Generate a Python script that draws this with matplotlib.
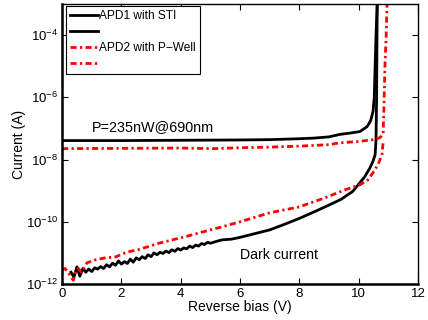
import numpy as np
import matplotlib
matplotlib.use('Agg')
import matplotlib.pyplot as plt

plt.rcParams['font.family'] = ['Liberation Sans', 'DejaVu Sans']
plt.rcParams['mathtext.fontset'] = 'custom'
plt.rcParams['mathtext.rm'] = 'Liberation Sans'
plt.rcParams['mathtext.it'] = 'Liberation Sans:italic'

# currents are given as log10(I / A)

# APD1 (STI), illuminated
apd1_light_v = [0, 2, 4, 6, 7, 8, 8.5, 9, 9.37, 9.7, 10.04, 10.28, 10.4, 10.48,
                10.52, 10.55, 10.58, 10.62]
apd1_light_log = [-7.39, -7.39, -7.38, -7.37, -7.36, -7.33, -7.31, -7.27, -7.19,
                  -7.15, -7.1, -6.94, -6.75, -6.45, -6.0, -5.0, -4.0, -3.0]

# APD1 (STI), dark
apd1_dark_v = [0.3, 0.4, 0.5, 0.6, 0.7, 0.8, 0.9, 1.0, 1.1, 1.2, 1.3, 1.4, 1.5,
               1.6, 1.7, 1.8, 1.9, 2.0, 2.1, 2.2, 2.3, 2.4, 2.5, 2.6, 2.7, 2.8,
               2.9, 3.0, 3.1, 3.2, 3.3, 3.4, 3.5, 3.6, 3.7, 3.8, 3.9, 4.0, 4.1,
               4.2, 4.3, 4.4, 4.5, 4.6, 4.7, 4.8, 4.9, 5.0, 5.2, 5.4, 5.7, 6.0,
               6.5, 7.0, 7.5, 8.0, 8.5, 9.0, 9.4, 9.8, 10.04, 10.2, 10.38, 10.48,
               10.55, 10.58, 10.6, 10.61, 10.62]
apd1_dark_log = [-11.62, -11.78, -11.45, -11.75, -11.50, -11.62, -11.52, -11.60,
                 -11.48, -11.52, -11.44, -11.50, -11.38, -11.45, -11.33, -11.40,
                 -11.26, -11.36, -11.28, -11.34, -11.20, -11.30, -11.16, -11.22,
                 -11.12, -11.18, -11.06, -11.12, -11.00, -11.06, -10.98, -11.02,
                 -10.94, -10.99, -10.90, -10.95, -10.86, -10.91, -10.84, -10.87,
                 -10.78, -10.83, -10.75, -10.78, -10.70, -10.73, -10.66, -10.69,
                 -10.63, -10.58, -10.56, -10.50, -10.38, -10.26, -10.08, -9.89,
                 -9.68, -9.46, -9.28, -9.02, -8.74, -8.55, -8.26, -8.05, -7.84,
                 -7.36, -6.0, -4.5, -3.0]

# APD2 (P-Well), illuminated
apd2_light_v = [0, 2, 4, 5.1, 6, 7, 8, 9, 9.37, 10, 10.48, 10.7, 10.82, 10.85,
                10.88, 10.92, 10.95]
apd2_light_log = [-7.65, -7.64, -7.63, -7.65, -7.62, -7.6, -7.57, -7.52, -7.46,
                  -7.42, -7.36, -7.3, -7.2, -6.2, -5.0, -4.1, -3.0]

# APD2 (P-Well), dark
apd2_dark_v = [0.0, 0.1, 0.2, 0.3, 0.38, 0.45, 0.55, 0.65, 0.75, 0.84, 1.1, 1.45,
               1.8, 2.2, 2.56, 3.3, 4.15, 5.0, 5.4, 6.0, 7.0, 8.0, 8.86, 9.54,
               10.04, 10.3, 10.48, 10.65, 10.78, 10.82]
apd2_dark_log = [-11.55, -11.5, -11.62, -11.78, -11.88, -11.6, -11.5, -11.62,
                 -11.48, -11.32, -11.23, -11.16, -11.13, -10.97, -10.9, -10.68,
                 -10.48, -10.26, -10.16, -10.0, -9.71, -9.52, -9.23, -8.97,
                 -8.81, -8.66, -8.42, -8.16, -7.84, -7.45]

yticks = [1e-12, 1e-10, 1e-8, 1e-6, 1e-4]
ytick_labels = ['$10^{-12}$', '$10^{-10}$', '$10^{-8}$', '$10^{-6}$', '$10^{-4}$']
xticks = [0, 2, 4, 6, 8, 10, 12]

fig = plt.figure(figsize=(4.28, 3.2), dpi=100)
ax = fig.add_axes([0.145, 0.1125, 0.832, 0.875])

red_dash = (2.2, 1.2, 0.8, 1.2)
l1, = ax.plot(apd1_light_v, 10.0 ** np.array(apd1_light_log), color='black', lw=2.0)
l2, = ax.plot(apd1_dark_v, 10.0 ** np.array(apd1_dark_log), color='black', lw=2.0)
l3, = ax.plot(apd2_light_v, 10.0 ** np.array(apd2_light_log), color='red', lw=2.0,
              dashes=red_dash)
l4, = ax.plot(apd2_dark_v, 10.0 ** np.array(apd2_dark_log), color='red', lw=2.0,
              dashes=red_dash)

ax.set_yscale('log')
ax.set_xlim(0, 12)
ax.set_ylim(1e-12, 1e-3)
ax.set_xticks(xticks)
ax.set_yticks(yticks)
ax.set_yticklabels(ytick_labels)
ax.yaxis.set_minor_locator(matplotlib.ticker.NullLocator())
ax.tick_params(direction='in', top=True, right=True, length=4, width=0.8,
               labelsize=9.5, pad=3)

for side in ['left', 'bottom']:
    ax.spines[side].set_linewidth(1.8)
for side in ['top', 'right']:
    ax.spines[side].set_linewidth(1.0)

ax.set_xlabel('Reverse bias (V)', fontsize=10, labelpad=0)
ax.set_ylabel('Current (A)', fontsize=10)
ax.yaxis.set_label_coords(-0.101, 0.5)

ax.text(1.0, 10 ** -6.97, 'P=235nW@690nm', fontsize=10.4, va='center')
ax.text(6.0, 10 ** -11.06, 'Dark current', fontsize=10.2, va='center')

leg = ax.legend([l1, l2, l3, l4], ['APD1 with STI', '', 'APD2 with P\u2212Well', ''],
                loc='upper left', bbox_to_anchor=(0.011, 0.993), borderaxespad=0,
                fontsize=8.6, handlelength=2.3, handletextpad=0.15, labelspacing=0.33,
                fancybox=False, framealpha=1, borderpad=0.35)
leg.get_frame().set_edgecolor('black')
leg.get_frame().set_linewidth(0.8)

fig.savefig('out.png', dpi=100)
